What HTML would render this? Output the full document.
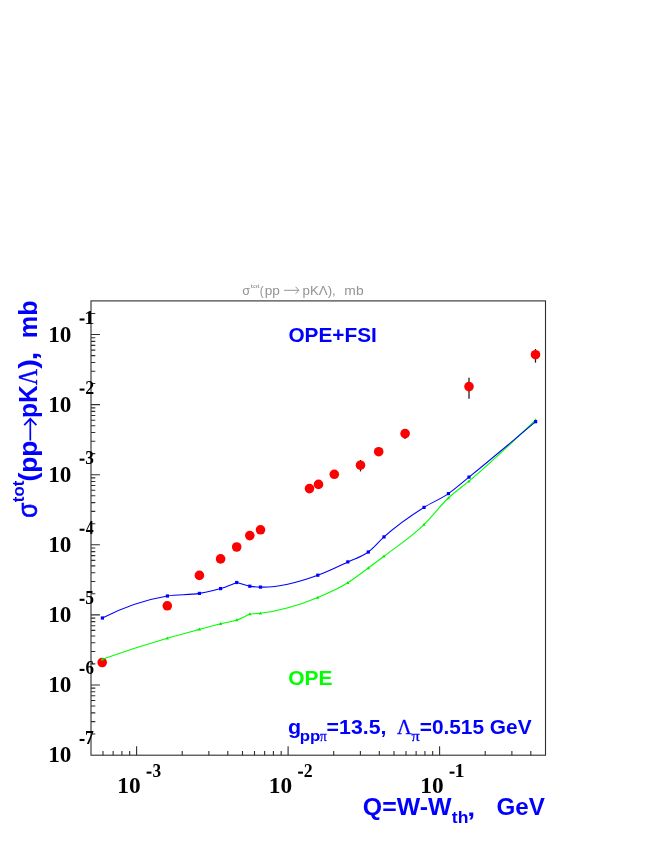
<!DOCTYPE html>
<html><head><meta charset="utf-8"><title>plot</title>
<style>html,body{margin:0;padding:0;background:#fff}svg{display:block;will-change:transform}text{font-family:"Liberation Sans",sans-serif}.s{font-family:"Liberation Serif",serif;font-weight:bold;fill:#000}.b{font-family:"Liberation Sans",sans-serif;font-weight:bold}.sy{font-family:"Liberation Serif",serif;font-weight:normal}.r{font-weight:normal}</style></head><body>
<svg width="654" height="846" viewBox="0 0 654 846">
<rect width="654" height="846" fill="#fff"/>
<g stroke="#2e2e2e" stroke-width="1.1" fill="none" stroke-linecap="butt">
<rect x="91.0" y="300.9" width="454.5" height="454.3"/>
<path d="M91.0 733.93h4.3M91.0 721.59h4.3M91.0 712.84h4.3M91.0 706.05h4.3M91.0 700.50h4.3M91.0 695.81h4.3M91.0 691.74h4.3M91.0 688.16h4.3M91.0 684.95h8.9M91.0 663.85h4.3M91.0 651.51h4.3M91.0 642.76h4.3M91.0 635.97h4.3M91.0 630.42h4.3M91.0 625.73h4.3M91.0 621.66h4.3M91.0 618.08h4.3M91.0 614.87h8.9M91.0 593.77h4.3M91.0 581.43h4.3M91.0 572.68h4.3M91.0 565.89h4.3M91.0 560.34h4.3M91.0 555.65h4.3M91.0 551.58h4.3M91.0 548.00h4.3M91.0 544.79h8.9M91.0 523.69h4.3M91.0 511.35h4.3M91.0 502.60h4.3M91.0 495.81h4.3M91.0 490.26h4.3M91.0 485.57h4.3M91.0 481.50h4.3M91.0 477.92h4.3M91.0 474.71h8.9M91.0 453.61h4.3M91.0 441.27h4.3M91.0 432.52h4.3M91.0 425.73h4.3M91.0 420.18h4.3M91.0 415.49h4.3M91.0 411.42h4.3M91.0 407.84h4.3M91.0 404.63h8.9M91.0 383.53h4.3M91.0 371.19h4.3M91.0 362.44h4.3M91.0 355.65h4.3M91.0 350.10h4.3M91.0 345.41h4.3M91.0 341.34h4.3M91.0 337.76h4.3M91.0 334.55h8.9M91.0 313.45h4.3M102.99 755.2v-4.3M113.13 755.2v-4.3M121.92 755.2v-4.3M129.67 755.2v-4.3M136.60 755.2v-8.9M182.21 755.2v-4.3M208.88 755.2v-4.3M227.81 755.2v-4.3M242.49 755.2v-4.3M254.49 755.2v-4.3M264.63 755.2v-4.3M273.42 755.2v-4.3M281.17 755.2v-4.3M288.10 755.2v-8.9M333.71 755.2v-4.3M360.38 755.2v-4.3M379.31 755.2v-4.3M393.99 755.2v-4.3M405.99 755.2v-4.3M416.13 755.2v-4.3M424.92 755.2v-4.3M432.67 755.2v-4.3M439.60 755.2v-8.9M485.21 755.2v-4.3M511.88 755.2v-4.3M530.81 755.2v-4.3"/>
</g>
<path d="M360.50 460.00V471.40" stroke="#1a1a1a" stroke-width="1.25"/>
<path d="M405.10 429.00V439.00" stroke="#1a1a1a" stroke-width="1.25"/>
<path d="M469.00 377.80V398.80" stroke="#1a1a1a" stroke-width="1.25"/>
<path d="M535.50 349.00V362.60" stroke="#1a1a1a" stroke-width="1.25"/>
<circle cx="102.20" cy="662.50" r="4.8" fill="#ff0000"/>
<circle cx="167.30" cy="605.80" r="4.8" fill="#ff0000"/>
<circle cx="199.40" cy="575.40" r="4.8" fill="#ff0000"/>
<circle cx="220.60" cy="558.90" r="4.8" fill="#ff0000"/>
<circle cx="236.70" cy="547.00" r="4.8" fill="#ff0000"/>
<circle cx="249.80" cy="535.60" r="4.8" fill="#ff0000"/>
<circle cx="260.50" cy="529.80" r="4.8" fill="#ff0000"/>
<circle cx="309.50" cy="488.60" r="4.8" fill="#ff0000"/>
<circle cx="318.50" cy="484.40" r="4.8" fill="#ff0000"/>
<circle cx="334.30" cy="474.30" r="4.8" fill="#ff0000"/>
<circle cx="360.50" cy="465.20" r="4.8" fill="#ff0000"/>
<circle cx="378.70" cy="451.70" r="4.8" fill="#ff0000"/>
<circle cx="405.10" cy="433.60" r="4.8" fill="#ff0000"/>
<circle cx="469.00" cy="386.60" r="4.8" fill="#ff0000"/>
<circle cx="535.50" cy="354.70" r="4.8" fill="#ff0000"/>
<path d="M102.30 659.20 C123.97 651.49 145.63 644.49 167.30 638.20 C178.00 635.09 188.70 632.27 199.40 629.40 C206.47 627.51 213.53 625.55 220.60 623.80 C225.97 622.47 231.33 621.90 236.70 620.00 C241.07 618.45 245.43 616.07 249.80 614.10 C253.37 613.80 256.93 613.61 260.50 613.20 C279.60 611.02 298.70 605.44 317.80 597.50 C327.80 593.34 337.80 589.08 347.80 582.80 C354.63 578.51 361.47 573.02 368.30 568.00 C373.53 564.15 378.77 560.27 384.00 556.30 C397.33 546.19 410.67 537.63 424.00 524.60 C432.13 516.65 440.27 505.66 448.40 498.00 C455.27 491.54 462.13 486.97 469.00 481.20 C491.20 462.55 513.40 441.28 535.60 420.00" fill="none" stroke="#00ff00" stroke-width="1.1"/>
<path d="M102.40 618.00 C124.07 606.93 145.73 599.60 167.40 596.00 C178.07 594.23 188.73 595.20 199.40 593.40 C206.47 592.21 213.53 590.81 220.60 588.60 C225.97 586.92 231.33 584.53 236.70 582.50 C241.07 583.73 245.43 585.44 249.80 586.20 C253.37 586.82 256.93 586.96 260.50 587.10 C279.60 587.83 298.70 582.12 317.80 575.20 C327.80 571.58 337.80 566.57 347.80 561.90 C354.63 558.71 361.47 557.15 368.30 552.00 C373.53 548.05 378.77 541.60 384.00 536.90 C397.33 524.92 410.67 515.81 424.00 507.40 C432.13 502.27 440.27 499.24 448.40 493.60 C455.27 488.84 462.13 482.65 469.00 477.10 C491.20 459.16 513.40 440.43 535.60 421.70" fill="none" stroke="#0000ff" stroke-width="1.1"/>
<path d="M102.30 657.40l1.7 3h-3.4z" fill="#00ee00"/>
<path d="M167.30 636.40l1.7 3h-3.4z" fill="#00ee00"/>
<path d="M199.40 627.60l1.7 3h-3.4z" fill="#00ee00"/>
<path d="M220.60 622.00l1.7 3h-3.4z" fill="#00ee00"/>
<path d="M236.70 618.20l1.7 3h-3.4z" fill="#00ee00"/>
<path d="M249.80 612.30l1.7 3h-3.4z" fill="#00ee00"/>
<path d="M260.50 611.40l1.7 3h-3.4z" fill="#00ee00"/>
<path d="M317.80 595.70l1.7 3h-3.4z" fill="#00ee00"/>
<path d="M347.80 581.00l1.7 3h-3.4z" fill="#00ee00"/>
<path d="M368.30 566.20l1.7 3h-3.4z" fill="#00ee00"/>
<path d="M384.00 554.50l1.7 3h-3.4z" fill="#00ee00"/>
<path d="M424.00 522.80l1.7 3h-3.4z" fill="#00ee00"/>
<path d="M448.40 496.20l1.7 3h-3.4z" fill="#00ee00"/>
<path d="M469.00 479.40l1.7 3h-3.4z" fill="#00ee00"/>
<path d="M535.60 418.20l1.7 3h-3.4z" fill="#00ee00"/>
<rect x="100.80" y="616.40" width="3.2" height="3.2" fill="#0000ff"/>
<rect x="165.80" y="594.40" width="3.2" height="3.2" fill="#0000ff"/>
<rect x="197.80" y="591.80" width="3.2" height="3.2" fill="#0000ff"/>
<rect x="219.00" y="587.00" width="3.2" height="3.2" fill="#0000ff"/>
<rect x="235.10" y="580.90" width="3.2" height="3.2" fill="#0000ff"/>
<rect x="248.20" y="584.60" width="3.2" height="3.2" fill="#0000ff"/>
<rect x="258.90" y="585.50" width="3.2" height="3.2" fill="#0000ff"/>
<rect x="316.20" y="573.60" width="3.2" height="3.2" fill="#0000ff"/>
<rect x="346.20" y="560.30" width="3.2" height="3.2" fill="#0000ff"/>
<rect x="366.70" y="550.40" width="3.2" height="3.2" fill="#0000ff"/>
<rect x="382.40" y="535.30" width="3.2" height="3.2" fill="#0000ff"/>
<rect x="422.40" y="505.80" width="3.2" height="3.2" fill="#0000ff"/>
<rect x="446.80" y="492.00" width="3.2" height="3.2" fill="#0000ff"/>
<rect x="467.40" y="475.50" width="3.2" height="3.2" fill="#0000ff"/>
<rect x="534.00" y="420.10" width="3.2" height="3.2" fill="#0000ff"/>
<text class="s" x="48.24" y="341.95" font-size="22.50" fill="#000" textLength="23.25" lengthAdjust="spacingAndGlyphs">10</text>
<text class="s" x="84.39" y="323.85" font-size="18.50" fill="#000" textLength="10.05" lengthAdjust="spacingAndGlyphs">1</text>
<text class="s" x="48.24" y="412.03" font-size="22.50" fill="#000" textLength="23.25" lengthAdjust="spacingAndGlyphs">10</text>
<text class="s" x="85.25" y="393.93" font-size="18.50" fill="#000" textLength="8.91" lengthAdjust="spacingAndGlyphs">2</text>
<text class="s" x="48.24" y="482.11" font-size="22.50" fill="#000" textLength="23.25" lengthAdjust="spacingAndGlyphs">10</text>
<text class="s" x="85.35" y="464.01" font-size="18.50" fill="#000" textLength="8.64" lengthAdjust="spacingAndGlyphs">3</text>
<text class="s" x="48.24" y="552.19" font-size="22.50" fill="#000" textLength="23.25" lengthAdjust="spacingAndGlyphs">10</text>
<text class="s" x="85.78" y="534.09" font-size="18.50" fill="#000" textLength="7.91" lengthAdjust="spacingAndGlyphs">4</text>
<text class="s" x="48.24" y="622.27" font-size="22.50" fill="#000" textLength="23.25" lengthAdjust="spacingAndGlyphs">10</text>
<text class="s" x="85.30" y="604.17" font-size="18.50" fill="#000" textLength="8.74" lengthAdjust="spacingAndGlyphs">5</text>
<text class="s" x="48.24" y="692.35" font-size="22.50" fill="#000" textLength="23.25" lengthAdjust="spacingAndGlyphs">10</text>
<text class="s" x="85.42" y="674.25" font-size="18.50" fill="#000" textLength="8.48" lengthAdjust="spacingAndGlyphs">6</text>
<text class="s" x="48.24" y="762.43" font-size="22.50" fill="#000" textLength="23.25" lengthAdjust="spacingAndGlyphs">10</text>
<text class="s" x="84.99" y="744.33" font-size="18.50" fill="#000" textLength="8.84" lengthAdjust="spacingAndGlyphs">7</text>
<text class="s" x="117.23" y="792.90" font-size="22.50" fill="#000" textLength="23.36" lengthAdjust="spacingAndGlyphs">10</text>
<text class="s" x="152.45" y="777.00" font-size="18.70" fill="#000" textLength="8.64" lengthAdjust="spacingAndGlyphs">3</text>
<text class="s" x="268.73" y="792.90" font-size="22.50" fill="#000" textLength="23.36" lengthAdjust="spacingAndGlyphs">10</text>
<text class="s" x="303.85" y="777.00" font-size="18.70" fill="#000" textLength="8.91" lengthAdjust="spacingAndGlyphs">2</text>
<text class="s" x="420.23" y="792.90" font-size="22.50" fill="#000" textLength="23.36" lengthAdjust="spacingAndGlyphs">10</text>
<text class="s" x="454.49" y="777.00" font-size="18.70" fill="#000" textLength="10.05" lengthAdjust="spacingAndGlyphs">1</text>
<rect x="79.60" y="318.45" width="4.9" height="2.1" fill="#000"/>
<rect x="79.60" y="388.53" width="4.9" height="2.1" fill="#000"/>
<rect x="79.60" y="458.61" width="4.9" height="2.1" fill="#000"/>
<rect x="79.60" y="528.69" width="4.9" height="2.1" fill="#000"/>
<rect x="79.60" y="598.77" width="4.9" height="2.1" fill="#000"/>
<rect x="79.60" y="668.85" width="4.9" height="2.1" fill="#000"/>
<rect x="79.60" y="738.93" width="4.9" height="2.1" fill="#000"/>
<rect x="146.60" y="771.60" width="4.9" height="2.1" fill="#000"/>
<rect x="298.10" y="771.60" width="4.9" height="2.1" fill="#000"/>
<rect x="449.60" y="771.60" width="4.9" height="2.1" fill="#000"/>
<text class="b" x="288.45" y="341.50" font-size="20.90" fill="#0000ff" textLength="88.44" lengthAdjust="spacingAndGlyphs">OPE+FSI</text>
<text class="b" x="288.24" y="684.90" font-size="20.90" fill="#00ff00" textLength="44.28" lengthAdjust="spacingAndGlyphs">OPE</text>
<text class="b" x="288.12" y="734.20" font-size="20.80" fill="#0000ff" textLength="13.12" lengthAdjust="spacingAndGlyphs">g</text>
<text class="b" x="299.69" y="740.70" font-size="15.30" fill="#0000ff" textLength="20.60" lengthAdjust="spacingAndGlyphs">pp</text>
<text class="sy" x="320.12" y="740.70" font-size="15.30" fill="#0000ff" textLength="6.79" lengthAdjust="spacingAndGlyphs" stroke="#0000ff" stroke-width="0.3">π</text>
<text class="b" x="326.62" y="734.20" font-size="20.80" fill="#0000ff" textLength="59.81" lengthAdjust="spacingAndGlyphs">=13.5,</text>
<text class="sy" x="397.10" y="734.20" font-size="20.80" fill="#0000ff" textLength="14.71" lengthAdjust="spacingAndGlyphs" stroke="#0000ff" stroke-width="0.3">Λ</text>
<text class="sy" x="411.58" y="740.70" font-size="15.30" fill="#0000ff" textLength="8.27" lengthAdjust="spacingAndGlyphs" stroke="#0000ff" stroke-width="0.3">π</text>
<text class="b" x="419.74" y="734.20" font-size="20.80" fill="#0000ff" textLength="111.81" lengthAdjust="spacingAndGlyphs">=0.515 GeV</text>
<text class="b" x="362.89" y="814.50" font-size="24.00" fill="#0000ff" textLength="88.54" lengthAdjust="spacingAndGlyphs">Q=W-W</text>
<text class="b" x="451.79" y="823.00" font-size="16.30" fill="#0000ff" textLength="16.61" lengthAdjust="spacingAndGlyphs">th</text>
<text class="b" x="467.35" y="815.60" font-size="24.00" fill="#0000ff" textLength="7.96" lengthAdjust="spacingAndGlyphs">,</text>
<text class="b" x="496.41" y="814.50" font-size="24.00" fill="#0000ff" textLength="48.36" lengthAdjust="spacingAndGlyphs">GeV</text>
<g transform="translate(37.2,517) rotate(-90)">
<text class="r" x="-0.83" y="0.00" font-size="27.40" fill="#0000ff" textLength="15.10" lengthAdjust="spacingAndGlyphs" stroke="#0000ff" stroke-width="0.7">σ</text>
<text class="b" x="14.79" y="-12.80" font-size="17.40" fill="#0000ff" textLength="21.51" lengthAdjust="spacingAndGlyphs">tot</text>
<text class="b" x="35.46" y="0.00" font-size="26.60" fill="#0000ff" textLength="8.97" lengthAdjust="spacingAndGlyphs">(</text>
<text class="b" x="44.26" y="0.00" font-size="26.60" fill="#0000ff" textLength="32.22" lengthAdjust="spacingAndGlyphs">pp</text>
<path d="M76.4 -6.9H98M91.8 -13L98.2 -6.9L91.8 -0.8" fill="none" stroke="#0000ff" stroke-width="1.7"/>
<text class="b" x="98.98" y="0.00" font-size="26.60" fill="#0000ff" textLength="32.75" lengthAdjust="spacingAndGlyphs">pK</text>
<text class="sy" x="132.08" y="0.00" font-size="26.80" fill="#0000ff" textLength="16.15" lengthAdjust="spacingAndGlyphs" stroke="#0000ff" stroke-width="0.4">Λ</text>
<text class="b" x="148.17" y="0.00" font-size="26.60" fill="#0000ff" textLength="9.68" lengthAdjust="spacingAndGlyphs">)</text>
<text class="b" x="156.62" y="0.00" font-size="26.60" fill="#0000ff" textLength="8.93" lengthAdjust="spacingAndGlyphs">,</text>
<text class="b" x="178.74" y="0.00" font-size="26.60" fill="#0000ff" textLength="37.79" lengthAdjust="spacingAndGlyphs">mb</text>
</g>
<text class="r" x="242.16" y="294.60" font-size="12.60" fill="#939393" textLength="7.93" lengthAdjust="spacingAndGlyphs">σ</text>
<text class="r" x="250.78" y="288.10" font-size="6.00" fill="#808080" textLength="8.57" lengthAdjust="spacingAndGlyphs">tot</text>
<text class="r" x="259.77" y="294.60" font-size="12.40" fill="#939393" textLength="3.89" lengthAdjust="spacingAndGlyphs">(</text>
<text class="r" x="264.72" y="294.60" font-size="12.60" fill="#939393" textLength="15.15" lengthAdjust="spacingAndGlyphs">pp</text>
<path d="M284 290.3H298.6M295.6 286.8L298.9 290.3L295.6 293.8" fill="none" stroke="#777" stroke-width="0.8"/>
<text class="r" x="302.54" y="294.60" font-size="12.40" fill="#939393" textLength="33.25" lengthAdjust="spacingAndGlyphs">pKΛ),</text>
<text class="r" x="344.38" y="294.60" font-size="12.40" fill="#939393" textLength="19.20" lengthAdjust="spacingAndGlyphs">mb</text>
</svg></body></html>
